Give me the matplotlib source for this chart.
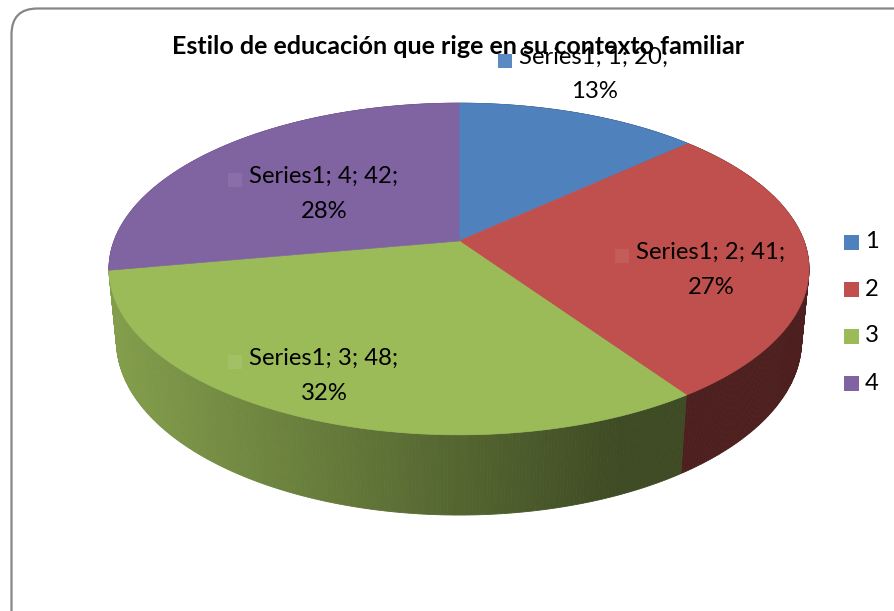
import numpy as np
import matplotlib.pyplot as plt
from matplotlib.patches import Polygon, FancyBboxPatch, Rectangle
from matplotlib.colors import to_rgb

plt.rcParams['font.family'] = ['Lato', 'DejaVu Sans']

### data ###
categories = ['1', '2', '3', '4']
values = [20, 41, 48, 42]
series_name = 'Series1'
title = 'Estilo de educación que rige en su contexto familiar'

### styles ###
colors = ['#4F81BD', '#C0504D', '#9BBB59', '#8064A2']
# centre of the first line of each data label, in pixels
label_pos = [(594, 57), (711, 252), (324, 358), (324, 176)]
legend_y = [242, 289, 336, 383]
FS = 17.2

W, H = 894, 611
fig = plt.figure(figsize=(W / 100, H / 100), dpi=100)
ax = fig.add_axes([0, 0, 1, 1])
ax.set_xlim(0, W)
ax.set_ylim(H, 0)
ax.axis('off')

# chart border (rounded, runs off the right / bottom edge)
ax.add_patch(FancyBboxPatch((11.5, 8.5), 920, 640, boxstyle='round,pad=0,rounding_size=26',
                            fc='white', ec='#868686', lw=1.6, zorder=0))

# perspective projection of the 3D pie
CX, CY = 459, 241
S = 345
PHI = np.radians(27.84)
D = 5.24
DEPTH = 0.2376


def proj(X, Y, Z):
    sp, cp = np.sin(PHI), np.cos(PHI)
    yc = Y * sp + Z * cp
    zc = Y * cp - Z * sp + D
    return CX + S * X * D / zc, CY - S * yc * D / zc


total = sum(values)
fracs = np.array(values) / total
bounds = np.concatenate([[0], np.cumsum(fracs)]) * 2 * np.pi

# side wall, drawn far to near
quads = []
for i, c in enumerate(colors):
    th = np.linspace(bounds[i], bounds[i + 1], max(int(fracs[i] * 720), 2) + 1)
    for a, b in zip(th[:-1], th[1:]):
        xs = np.sin([a, b])
        ys = np.cos([a, b])
        tx, ty = proj(xs, ys, 0)
        bx, by = proj(xs, ys, -DEPTH)
        pts = [(tx[0], ty[0]), (tx[1], ty[1]), (bx[1], by[1]), (bx[0], by[0])]
        quads.append((np.cos((a + b) / 2), pts, c))
quads.sort(key=lambda q: -q[0])
for _, pts, c in quads:
    sx = np.mean([p[0] for p in pts])
    f = np.clip(0.85 - 0.45 * (sx - 110) / 510, 0.40, 0.86)
    rgb = np.array(to_rgb(c)) * f
    ax.add_patch(Polygon(pts, closed=True, fc=rgb, ec=rgb, lw=0.6, zorder=1))

# top face
for i, c in enumerate(colors):
    th = np.linspace(bounds[i], bounds[i + 1], 200)
    rx, ry = proj(np.sin(th), np.cos(th), 0)
    pts = [(CX, CY)] + list(zip(rx, ry))
    ax.add_patch(Polygon(pts, closed=True, fc=c, ec=c, lw=0.5, zorder=2))

# title (overlaps the first data label, as in the original)
ax.text(458, 46, title, ha='center', va='center', fontsize=18, fontweight='bold', zorder=5)

# data labels
fig.canvas.draw()
renderer = fig.canvas.get_renderer()
inv = ax.transData.inverted()
for i, (cat, v) in enumerate(zip(categories, values)):
    pct = round(v / total * 100)
    x, y = label_pos[i]
    t1 = ax.text(x, y, f'{series_name}; {cat}; {v};', ha='center', va='center',
                 fontsize=FS, zorder=6)
    ax.text(x, y + 35, f'{pct}%', ha='center', va='center', fontsize=FS, zorder=6)
    bb = t1.get_window_extent(renderer)
    left = inv.transform((bb.x0, bb.y0))[0]
    sq = np.array(to_rgb(colors[i])) * 0.93 + 0.07
    ax.add_patch(Rectangle((left - 21, y - 3), 14, 14, fc=sq, ec='none', zorder=5))

# legend
for i, cat in enumerate(categories):
    ax.add_patch(Rectangle((844, legend_y[i] - 7.5), 15, 15, fc=colors[i], ec='none', zorder=5))
    ax.text(865, legend_y[i], cat, ha='left', va='center', fontsize=FS, zorder=5)

fig.savefig('out.png', dpi=100)
